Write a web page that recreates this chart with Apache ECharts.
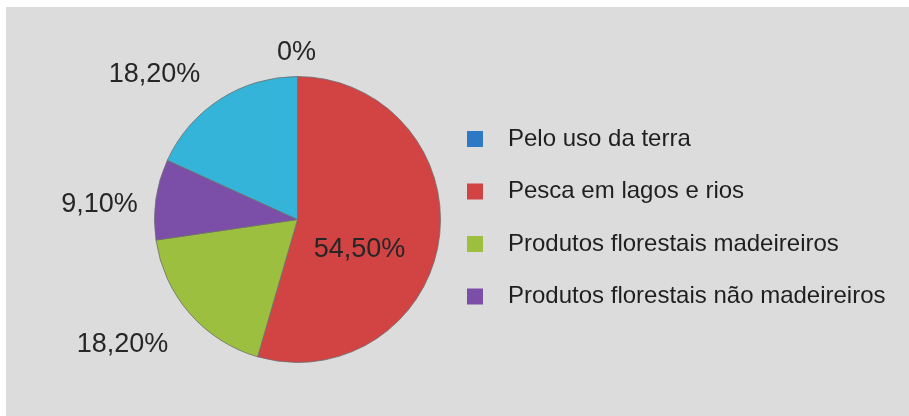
<!DOCTYPE html>
<html>
<head>
<meta charset="utf-8">
<style>
  html, body { margin: 0; padding: 0; background: #ffffff; }
  #chart { width: 909px; height: 416px; }
</style>
<script src="https://cdn.jsdelivr.net/npm/echarts@6/dist/echarts.min.js"></script>
</head>
<body>
<div id="chart"></div>
<script>
// dados do gráfico (fatias no sentido horário a partir do topo)
const categories = [
  'Pelo uso da terra',
  'Pesca em lagos e rios',
  'Produtos florestais madeireiros',
  'Produtos florestais não madeireiros',
  'Outros'
]
const values = [0, 54.5, 18.2, 9.1, 18.2]
const labels = ['0%', '54,50%', '18,20%', '9,10%', '18,20%']
const legendNames = categories.slice(0, 4)

const colors = ['#2e78c6', '#d24343', '#9cbf3f', '#7b4fa7', '#33b4d8']

// posição dos rótulos relativa ao centro da pizza
const center = [297.5, 219.5]
const labelOffsets = [[-1, -167], [62, 30], [-175, 125], [-198, -15], [-143, -145]]

const chart = echarts.init(document.getElementById('chart'))

const option = {
  backgroundColor: '#ffffff',
  animation: false,
  color: colors,
  graphic: [{
    type: 'rect',
    left: 6,
    top: 7,
    shape: { width: 903, height: 409 },
    style: { fill: '#dcdcdc' },
    z: -10
  }],
  legend: {
    data: legendNames,
    orient: 'vertical',
    left: 467,
    top: 127,
    padding: 0,
    icon: 'rect',
    itemWidth: 16,
    itemHeight: 16,
    itemGap: 28.5,
    selectedMode: false,
    itemStyle: { borderWidth: 0 },
    textStyle: {
      fontFamily: 'Liberation Sans, Arial, sans-serif',
      fontSize: 24,
      lineHeight: 24,
      color: '#1f1f1f',
      padding: [0, 0, 0, 20]
    }
  },
  series: [{
    type: 'pie',
    center: center,
    radius: 143,
    startAngle: 90,
    clockwise: true,
    minShowLabelAngle: 0,
    avoidLabelOverlap: false,
    silent: true,
    itemStyle: {
      borderColor: '#6e6e6e',
      borderWidth: 0.8
    },
    label: {
      show: true,
      position: 'outside',
      formatter: (p) => labels[p.dataIndex],
      fontFamily: 'Liberation Sans, Arial, sans-serif',
      fontSize: 27,
      color: '#262626'
    },
    labelLine: { show: false },
    labelLayout: (p) => {
      const off = labelOffsets[p.dataIndex]
      return {
        x: center[0] + off[0],
        y: center[1] + off[1],
        align: 'center',
        verticalAlign: 'middle'
      }
    },
    data: categories.map((name, i) => ({ name: name, value: values[i] }))
  }]
}

chart.setOption(option)
</script>
</body>
</html>
